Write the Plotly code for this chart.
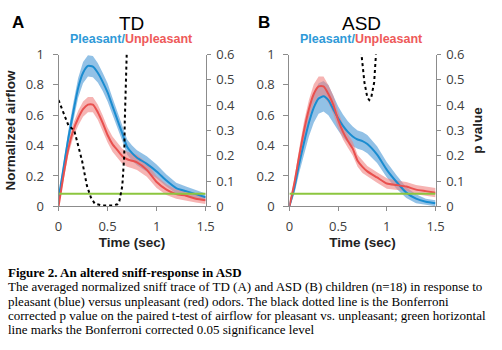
import plotly.graph_objects as go

# ---------------- data ----------------
t = [0, 0.05, 0.1, 0.15, 0.2, 0.25, 0.3, 0.35, 0.4, 0.45, 0.5, 0.55, 0.6, 0.65,
     0.7, 0.75, 0.8, 0.9, 1.0, 1.1, 1.2, 1.3, 1.4, 1.5]

# Panel A (TD)
td_pleasant = [0.05, 0.25, 0.45, 0.62, 0.78, 0.88, 0.925, 0.92, 0.88, 0.82, 0.75, 0.66,
               0.57, 0.48, 0.39, 0.35, 0.32, 0.28, 0.23, 0.17, 0.12, 0.10, 0.08, 0.06]
td_pleasant_err = [0.02, 0.04, 0.05, 0.06, 0.065, 0.07, 0.07, 0.07, 0.065, 0.06, 0.06, 0.055,
                   0.055, 0.05, 0.05, 0.05, 0.05, 0.05, 0.045, 0.04, 0.035, 0.03, 0.025, 0.025]
td_unpleasant = [0.0, 0.2, 0.38, 0.5, 0.58, 0.64, 0.67, 0.67, 0.62, 0.55, 0.47, 0.41,
                 0.37, 0.33, 0.31, 0.30, 0.29, 0.24, 0.16, 0.11, 0.08, 0.07, 0.05, 0.04]
td_unpleasant_err = [0.01, 0.03, 0.04, 0.045, 0.05, 0.05, 0.05, 0.05, 0.05, 0.05, 0.05, 0.05,
                     0.05, 0.05, 0.05, 0.05, 0.05, 0.045, 0.04, 0.035, 0.03, 0.03, 0.025, 0.025]
td_p_t = [0, 0.03, 0.06, 0.1, 0.16, 0.19, 0.24, 0.29, 0.33, 0.37, 0.45, 0.55, 0.6,
          0.62, 0.65, 0.67, 0.675, 0.695, 0.72]
td_p = [0.42, 0.39, 0.36, 0.32, 0.30, 0.255, 0.18, 0.08, 0.035, 0.01, 0.003, 0.003, 0.008,
        0.02, 0.08, 0.2, 0.33, 0.6, 0.9]

# Panel B (ASD)
asd_pleasant = [0.0, 0.12, 0.28, 0.42, 0.55, 0.65, 0.71, 0.725, 0.70, 0.64, 0.58, 0.53,
                0.49, 0.46, 0.44, 0.43, 0.41, 0.34, 0.24, 0.16, 0.09, 0.05, 0.03, 0.02]
asd_pleasant_err = [0.01, 0.04, 0.06, 0.08, 0.09, 0.1, 0.1, 0.1, 0.1, 0.09, 0.08, 0.075,
                    0.07, 0.065, 0.06, 0.06, 0.06, 0.055, 0.05, 0.045, 0.035, 0.03, 0.02, 0.02]
asd_unpleasant = [0.0, 0.15, 0.33, 0.5, 0.64, 0.74, 0.79, 0.79, 0.74, 0.67, 0.57, 0.49,
                  0.43, 0.38, 0.30, 0.26, 0.23, 0.19, 0.15, 0.14, 0.13, 0.11, 0.10, 0.09]
asd_unpleasant_err = [0.01, 0.03, 0.05, 0.06, 0.06, 0.065, 0.065, 0.065, 0.06, 0.06, 0.055, 0.05,
                      0.045, 0.045, 0.04, 0.04, 0.035, 0.035, 0.035, 0.03, 0.03, 0.03, 0.03, 0.03]
asd_p_t = [0.70, 0.74, 0.77, 0.80, 0.82, 0.84, 0.87, 0.90, 0.93]
asd_p = [0.85, 0.60, 0.49, 0.43, 0.42, 0.43, 0.49, 0.60, 0.85]

sig_t = [0, 1.5]
sig_level = [0.05, 0.05]

x_ticks = [0, 0.5, 1, 1.5]
x_ticklabels = ["0", "0.5", "1", "1.5"]
y_ticks = [0, 0.2, 0.4, 0.6, 0.8, 1]
y_ticklabels = ["0", "0.2", "0.4", "0.6", "0.8", "1"]
p_ticks = [0, 0.1, 0.2, 0.3, 0.4, 0.5, 0.6]
p_ticklabels = ["0", "0.1", "0.2", "0.3", "0.4", "0.5", "0.6"]

panel_letters = ["A", "B"]
panel_titles = ["TD", "ASD"]
xlabel = "Time (sec)"
ylabel_left = "Normalized airflow"
ylabel_right = "p value"

caption_title = "Figure 2. An altered sniff-response in ASD"
caption_lines = [
    "The averaged normalized sniff trace of TD (A) and ASD (B) children (n=18) in response to",
    "pleasant (blue) versus unpleasant (red) odors. The black dotted line is the Bonferroni",
    "corrected p value on the paired t-test of airflow for pleasant vs. unpleasant; green horizontal",
    "line marks the Bonferroni corrected 0.05 significance level",
]

# ---------------- styles ----------------
BLUE = "#1a8cd0"
BLUE_BAND = "rgba(110,172,222,0.75)"
RED = "#e9504e"
RED_BAND = "rgba(240,130,128,0.6)"
GREEN = "#8cc63f"
AXIS = "#8c8c8c"
TICKFONT = dict(family="Open Sans", size=13, color="#404040")
BOLD = dict(family="Liberation Sans", size=13.5, color="#222", weight="bold")

W, H = 502, 350
fig = go.Figure()


def band(x, y, e, color, xa, ya):
    up = [a + b for a, b in zip(y, e)]
    lo = [a - b for a, b in zip(y, e)]
    fig.add_trace(go.Scatter(x=list(x) + list(x)[::-1], y=up + lo[::-1], fill="toself",
                             fillcolor=color, line=dict(width=0), mode="lines",
                             hoverinfo="skip", showlegend=False, xaxis=xa, yaxis=ya))


def line(x, y, color, xa, ya, width=2, dash=None):
    fig.add_trace(go.Scatter(x=x, y=y, mode="lines",
                             line=dict(color=color, width=width, dash=dash, shape="spline",
                                       smoothing=0.6),
                             showlegend=False, xaxis=xa, yaxis=ya))


panels = [
    ("x", "y", "y2", td_pleasant, td_pleasant_err, td_unpleasant, td_unpleasant_err, td_p_t, td_p),
    ("x2", "y3", "y4", asd_pleasant, asd_pleasant_err, asd_unpleasant, asd_unpleasant_err, asd_p_t, asd_p),
]
for xa, ya, yp, pl, ple, un, une, pt, pv in panels:
    band(t, pl, ple, BLUE_BAND, xa, ya)
    band(t, un, une, RED_BAND, xa, ya)
    line(t, pl, BLUE, xa, ya)
    line(t, un, RED, xa, ya)
    fig.add_trace(go.Scatter(x=sig_t, y=sig_level, mode="lines", line=dict(color=GREEN, width=2),
                             showlegend=False, xaxis=xa, yaxis=yp))
    fig.add_trace(go.Scatter(x=pt, y=pv, mode="lines", line=dict(color="black", width=2, dash="dot"),
                             showlegend=False, xaxis=xa, yaxis=yp))

ydom = [1 - 208 / H, 1 - 48 / H]
xdomA = [56 / W, 207 / W]
xdomB = [293 / W, 443 / W]

xcommon = dict(range=[0, 1.5], tickvals=x_ticks, ticktext=x_ticklabels, showgrid=False,
               zeroline=False, showline=True, linecolor=AXIS, linewidth=1, ticks="outside",
               ticklen=4, tickcolor=AXIS, tickfont=TICKFONT, ticklabelstandoff=4,
               title=dict(text="<b>" + xlabel + "</b>", font=BOLD, standoff=2))
ycommon = dict(range=[0, 1], tickvals=y_ticks, ticktext=y_ticklabels, showgrid=False,
               zeroline=False, showline=True, linecolor=AXIS, linewidth=1, ticks="outside",
               ticklen=5, tickcolor=AXIS, tickfont=TICKFONT, ticklabelstandoff=6, domain=ydom)
pcommon = dict(range=[0, 0.6], tickvals=p_ticks, ticktext=p_ticklabels, showgrid=False,
               zeroline=False, showline=True, linecolor=AXIS, linewidth=1, ticks="outside",
               ticklen=4, tickcolor=AXIS, tickfont=TICKFONT, ticklabelstandoff=3, side="right")

fig.update_layout(
    width=W, height=H, margin=dict(l=0, r=0, t=0, b=0),
    paper_bgcolor="white", plot_bgcolor="white",
    xaxis=dict(domain=xdomA, anchor="y", **xcommon),
    yaxis=dict(anchor="x", title=dict(text="<b>" + ylabel_left + "</b>", font=BOLD, standoff=6), **ycommon),
    yaxis2=dict(anchor="x", overlaying="y", **pcommon),
    xaxis2=dict(domain=xdomB, anchor="y3", **xcommon),
    yaxis3=dict(anchor="x2", **ycommon),
    yaxis4=dict(anchor="x2", overlaying="y3",
                title=dict(text="<b>" + ylabel_right + "</b>", font=BOLD, standoff=8), **pcommon),
)

# titles
centers = [131, 367]
letter_x = [14, 267]
for i in range(2):
    fig.add_annotation(x=letter_x[i] / W, y=1 - 14 / H, xref="paper", yref="paper",
                       text="<b>" + panel_letters[i] + "</b>", showarrow=False,
                       font=dict(family="Liberation Sans", size=17, color="black"),
                       xanchor="center", yanchor="middle")
    fig.add_annotation(x=centers[i] / W, y=1 - 15 / H, xref="paper", yref="paper",
                       text=panel_titles[i], showarrow=False,
                       font=dict(family="Liberation Sans", size=19, color="black"),
                       xanchor="center", yanchor="middle")
    fig.add_annotation(x=centers[i] / W, y=1 - 32 / H, xref="paper", yref="paper",
                       text="<b><span style='color:#2f9ad8'>Pleasant/</span>"
                            "<span style='color:#ee5a5a'>Unpleasant</span></b>",
                       showarrow=False, font=dict(family="Liberation Sans", size=12.5),
                       xanchor="center", yanchor="middle")

# caption
fig.add_annotation(x=2 / W, y=1 - 278 / H, xref="paper", yref="paper",
                   text="<b>" + caption_title + "</b>", showarrow=False, align="left",
                   font=dict(family="Liberation Serif", size=13, color="black"),
                   xanchor="left", yanchor="middle")
for k, ln in enumerate(caption_lines):
    fig.add_annotation(x=2 / W, y=1 - (293 + 15 * k) / H, xref="paper", yref="paper",
                       text=ln, showarrow=False, align="left",
                       font=dict(family="Liberation Serif", size=13, color="black"),
                       xanchor="left", yanchor="middle")

fig.write_html("out.html")
